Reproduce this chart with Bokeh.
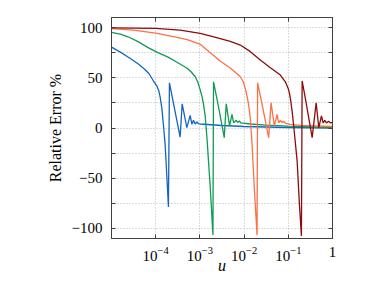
from bokeh.plotting import figure
from bokeh.models import FixedTicker, LogAxis, LinearAxis, CustomJSTickFormatter
from bokeh.embed import file_html
from bokeh.resources import INLINE

# --- data (u on a log axis, relative error in %) ---
u_blue = [1.0e-5, 1.585e-5, 2.512e-5, 3.981e-5, 5.623e-5, 7.079e-5, 8.710e-5, 1.059e-4,
          1.175e-4, 1.259e-4, 1.374e-4, 1.496e-4, 1.633e-4, 1.841e-4, 1.941e-4, 2.046e-4,
          2.512e-4, 3.573e-4, 3.972e-4, 5.070e-4, 6.026e-4, 6.592e-4, 7.161e-4, 7.816e-4,
          8.551e-4, 9.333e-4, 1.016e-3, 3.162e-3, 1.0e-2, 1.0e-1, 1.0]
err_blue = [80.5, 75.5, 70, 64, 58.5, 54, 47.5, 42,
            37, 31, 20, 3, -16, -59, -78.6, 45,
            25, -9, 24, 0.3, 12.6, 3.7, 7.6, 4,
            6, 4.3, 4, 2.5, 1.5, 0.5, 0]

u_green = [1.0e-5, 1.585e-5, 2.366e-5, 3.981e-5, 6.730e-5, 1.122e-4, 1.910e-4, 3.162e-4,
           5.152e-4, 6.310e-4, 7.816e-4, 8.913e-4, 1.016e-3, 1.122e-3, 1.208e-3, 1.318e-3,
           1.445e-3, 1.714e-3, 1.972e-3, 2.032e-3, 2.512e-3, 3.556e-3, 3.945e-3, 4.688e-3,
           5.321e-3, 5.781e-3, 6.653e-3, 7.129e-3, 7.780e-3, 8.511e-3, 1.384e-2, 3.162e-2,
           1.0e-1, 1.0]
err_green = [95.2, 93.5, 90.8, 86, 80, 75, 70.5, 65,
             59.5, 56, 51, 46, 38, 31, 23.6, 12,
             -10, -59, -106.5, 46, 26, -9.6, 24, 2,
             13.6, 5.3, 7.6, 5.5, 7, 5, 4, 2.8,
             1.8, 0.5]

u_orange = [1.0e-5, 3.162e-5, 1.0e-4, 2.512e-4, 5.152e-4, 1.0e-3, 1.714e-3, 2.818e-3,
            4.864e-3, 6.310e-3, 8.204e-3, 9.550e-3, 1.072e-2, 1.175e-2, 1.259e-2, 1.380e-2,
            1.514e-2, 1.698e-2, 1.963e-2, 2.023e-2, 2.512e-2, 3.597e-2, 4.074e-2, 4.842e-2,
            5.572e-2, 6.053e-2, 6.622e-2, 7.345e-2, 7.870e-2, 8.710e-2, 0.1117, 0.1879, 1.0]
err_orange = [99, 97.5, 94.5, 91, 88, 83.5, 75, 67,
              59.7, 55.5, 51, 46, 39, 31, 24, 10,
              -16, -59, -106.8, 45, 25, -9.6, 25, 2,
              13.6, 5, 7.5, 5.5, 6.7, 4.5, 3.7, 2.7, 1.5]

u_red = [1.0e-5, 1.0e-4, 3.573e-4, 1.016e-3, 1.778e-3, 2.884e-3, 4.864e-3, 8.204e-3,
         1.384e-2, 2.328e-2, 3.926e-2, 6.607e-2, 8.570e-2, 0.1, 0.1059, 0.1135,
         0.1219, 0.1374, 0.1585, 0.1778, 0.1982, 0.2056, 0.2512, 0.3467, 0.4266,
         0.4898, 0.5623, 0.6166, 0.6683, 0.7311, 0.8128, 0.9016, 1.0]
err_red = [99.7, 99.2, 97.5, 94.2, 91.5, 89, 86.3, 82.6,
           76, 67.7, 60, 52.7, 46, 39, 35, 27,
           17, -5, -33, -75, -107.5, 46.8, 26, -9.6, 25,
           0.3, 12, 5, 7.6, 5, 6.7, 5, 5.5]

x_ticks = [1e-4, 1e-3, 1e-2, 1e-1, 1]
y_ticks = [-100, -75, -50, -25, 0, 25, 50, 75, 100]
y_labels = {-100: "\u2212100", -75: "", -50: "\u221250", -25: "", 0: "0",
            25: "", 50: "50", 75: "", 100: "100"}
x_label = "u"
y_label = "Relative Error %"

FONT = "Liberation Serif"
FRAME = "#404040"
GRID = "#b8b8b8"

p = figure(x_axis_type="log", x_range=(1e-5, 1), y_range=(-110, 110),
           frame_width=221, frame_height=221,
           min_border_left=111, min_border_top=17, min_border_right=40, min_border_bottom=40,
           output_backend="svg", toolbar_location=None,
           background_fill_color="white", border_fill_color="white")

p.outline_line_color = FRAME
p.outline_line_width = 1
p.outline_line_alpha = 1

xt = FixedTicker(ticks=x_ticks, minor_ticks=[])
yt = FixedTicker(ticks=y_ticks, minor_ticks=[])

xa = p.xaxis[0]
xa.ticker = xt
xa.major_label_overrides = {1: "1"}
ya = p.yaxis[0]
ya.ticker = yt
ya.major_label_overrides = y_labels

for ax in (xa, ya):
    ax.axis_line_color = FRAME
    ax.major_tick_line_color = FRAME
    ax.major_tick_in = 4
    ax.major_tick_out = 0
    ax.minor_tick_line_color = None
    ax.major_label_text_font = FONT
    ax.major_label_text_font_size = "15px"
    ax.major_label_text_color = "black"
    ax.axis_label_text_font = FONT
    ax.axis_label_text_font_size = "16px"
    ax.axis_label_text_color = "black"

xa.axis_label = x_label
xa.axis_label_text_font_style = "italic"
xa.major_label_standoff = 8
xa.axis_label_standoff = -7
ya.axis_label = y_label
ya.axis_label_text_font_style = "normal"
ya.major_label_standoff = 9
ya.axis_label_standoff = 5

top = LogAxis(ticker=xt, formatter=CustomJSTickFormatter(code="return ''"))
right = LinearAxis(ticker=yt, formatter=CustomJSTickFormatter(code="return ''"))
for ax in (top, right):
    ax.axis_line_color = FRAME
    ax.major_tick_line_color = FRAME
    ax.major_tick_in = 4
    ax.major_tick_out = 0
    ax.minor_tick_line_color = None
    ax.major_label_standoff = 0
    ax.major_label_text_font_size = "1px"
p.add_layout(top, "above")
p.add_layout(right, "right")

for g in (p.xgrid[0], p.ygrid[0]):
    g.grid_line_color = GRID
    g.grid_line_dash = "1 2"
    g.grid_line_width = 1

LW = 1.3
p.line(u_blue, err_blue, line_color="#1565c0", line_width=LW)
p.line(u_green, err_green, line_color="#0f9a55", line_width=LW)
p.line(u_orange, err_orange, line_color="#ff6f45", line_width=LW)
p.line(u_red, err_red, line_color="#8e0b0b", line_width=LW)

open("out.html", "w").write(file_html(p, INLINE))
